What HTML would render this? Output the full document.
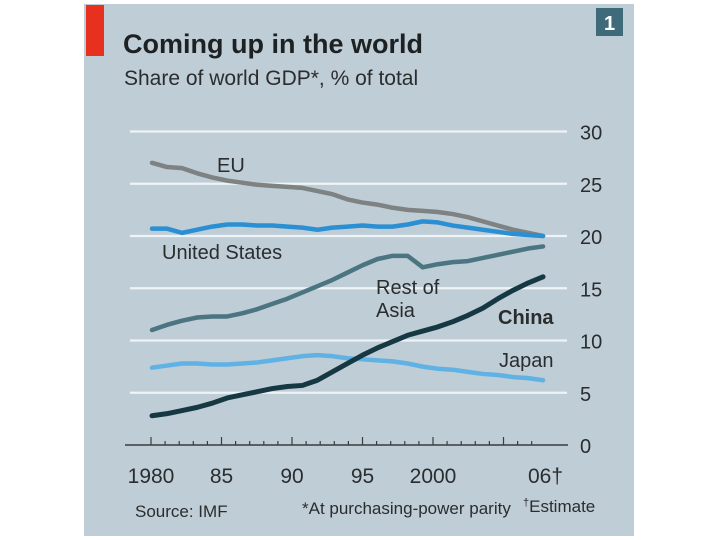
<!DOCTYPE html>
<html><head><meta charset="utf-8">
<style>
body{margin:0;background:#fff;width:720px;height:540px;overflow:hidden}
svg{display:block}
text{font-family:"Liberation Sans Narrow","Liberation Sans",sans-serif;fill:#2a2d2e}
</style></head><body>
<svg width="720" height="540">
<rect x="84" y="4" width="550" height="532" fill="#bfcdd7"/>
<rect x="86" y="5" width="18" height="51" fill="#e8301e"/>
<rect x="596" y="8" width="27" height="28" fill="#3f6a79"/>
<text x="609.5" y="30" text-anchor="middle" font-size="20" font-weight="bold" style="fill:#fff">1</text>
<text x="123" y="53" font-size="27" font-weight="bold" style="fill:#1e2122">Coming up in the world</text>
<text x="124" y="85" font-size="21">Share of world GDP*, % of total</text>
<g id="grid"></g>
<g id="xaxis"></g>
<g id="series"></g>
<text x="217" y="172" font-size="20">EU</text>
<text x="162" y="259" font-size="20">United States</text>
<text x="376" y="294" font-size="20">Rest of</text>
<text x="376" y="317" font-size="20">Asia</text>
<text x="498" y="324" font-size="20" font-weight="bold">China</text>
<text x="499" y="367" font-size="20">Japan</text>
<text x="135" y="517" font-size="17">Source: IMF</text>
<text x="302" y="514" font-size="17">*At purchasing-power parity</text>
<text x="523" y="512" font-size="17"><tspan font-size="11" dy="-6">†</tspan><tspan dy="6">Estimate</tspan></text>
</svg>
<script>
const years=[1980,1981,1982,1983,1984,1985,1986,1987,1988,1989,1990,1991,1992,1993,1994,1995,1996,1997,1998,1999,2000,2001,2002,2003,2004,2005,2006];
const eu=[27.0,26.6,26.5,26.0,25.6,25.3,25.1,24.9,24.8,24.7,24.6,24.3,24.0,23.5,23.2,23.0,22.7,22.5,22.4,22.3,22.1,21.8,21.4,21.0,20.6,20.3,20.0];
const us=[20.7,20.7,20.3,20.6,20.9,21.1,21.1,21.0,21.0,20.9,20.8,20.6,20.8,20.9,21.0,20.9,20.9,21.1,21.4,21.3,21.0,20.8,20.6,20.4,20.2,20.1,20.0];
const restOfAsia=[11.0,11.5,11.9,12.2,12.3,12.3,12.6,13.0,13.5,14.0,14.6,15.2,15.8,16.5,17.2,17.8,18.1,18.1,17.0,17.3,17.5,17.6,17.9,18.2,18.5,18.8,19.0];
const japan=[7.4,7.6,7.8,7.8,7.7,7.7,7.8,7.9,8.1,8.3,8.5,8.6,8.5,8.3,8.2,8.1,8.0,7.8,7.5,7.3,7.2,7.0,6.8,6.7,6.5,6.4,6.2];
const china=[2.8,3.0,3.3,3.6,4.0,4.5,4.8,5.1,5.4,5.6,5.7,6.2,7.0,7.8,8.6,9.3,9.9,10.5,10.9,11.3,11.8,12.4,13.1,14.0,14.8,15.5,16.1];
const yTicks=[0,5,10,15,20,25,30];
const xTickYears=[1980,1985,1990,1995,2000,2005];
const xTickLabels=["1980","85","90","95","2000","06†"];
const NS="http://www.w3.org/2000/svg";
const x=yr=>152+(yr-1980)*15.04;
const y=v=>445-v*10.45;
const tx=yr=>151+(yr-1980)*14.1;
function mk(tag,attrs,parent){const e=document.createElementNS(NS,tag);for(const k in attrs)e.setAttribute(k,attrs[k]);parent.appendChild(e);return e;}
const grid=document.getElementById('grid');
yTicks.forEach(v=>{
  if(v>0){const l=mk('line',{x1:130,x2:567,y1:y(v),y2:y(v),stroke:'#eef3f6','stroke-width':2.2},grid);
  
  }
  const t=mk('text',{x:580,y:y(v)+8,'font-size':20},grid);t.textContent=v;
  
  
});
const xa=document.getElementById('xaxis');
const al=mk('line',{x1:125,x2:568,y1:445,y2:445,stroke:'#3a3d3e','stroke-width':1.5},xa);


for(let yr=1980;yr<=2007;yr++){
  const major=(yr%5===0);
  const tk=mk('line',{x1:tx(yr),x2:tx(yr),y1:445,y2:major?437:441,stroke:'#3a3d3e','stroke-width':1.2},xa);
  
  
}
xTickYears.forEach((yr,i)=>{
  const last=i===xTickYears.length-1;
  const t=mk('text',{x:last?528:tx(yr),y:483,'font-size':21,'text-anchor':last?'start':'middle'},xa);
  t.textContent=xTickLabels[i];
  
  
});
const sg=document.getElementById('series');
[[eu,'#7e8282','eu'],[us,'#2a8fd3','united-states'],[restOfAsia,'#4b7581','rest-of-asia'],[japan,'#5fb2e3','japan'],[china,'#163843','china']].forEach(([d,c,n])=>{
  const p=mk('polyline',{points:d.map((v,i)=>x(years[i])+','+y(v)).join(' '),fill:'none',stroke:c,'stroke-width':n==='china'?5:4.5,'stroke-linejoin':'round','stroke-linecap':'round'},sg);
  
  
});
</script>
</body></html>
